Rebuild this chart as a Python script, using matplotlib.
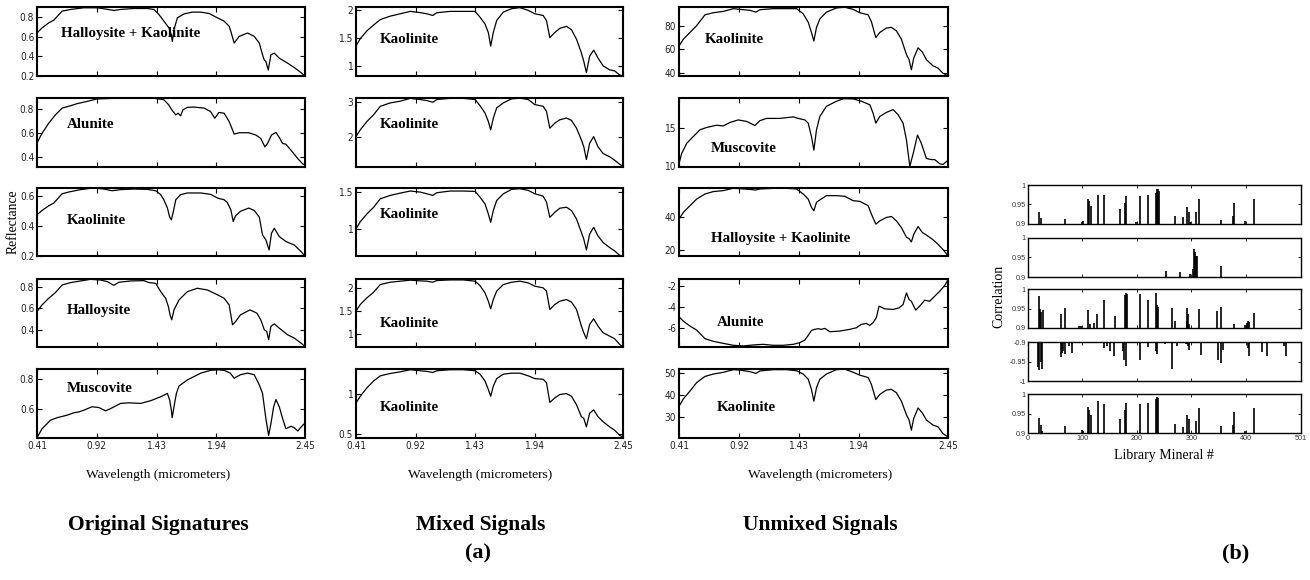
import matplotlib
matplotlib.use("Agg")
import matplotlib.pyplot as plt
from matplotlib import font_manager
from matplotlib.font_manager import FontProperties

# ---------------------------------------------------------------- data
# spectral x axis is the band number (0..224), labelled in micrometers
WAVE_TICKS = [0, 50, 100, 150, 224]
WAVE_LABELS = ["0.41", "0.92", "1.43", "1.94", "2.45"]

# --- original signatures
HK_ORIG_BANDS = [0, 4.2, 9.8, 14, 21, 28, 39.1, 50.3, 55.9, 64.2, 69.8, 81, 92.2, 97.8, 101.9,
                 106.1, 110.3, 112.3, 113.1, 114.5, 117.3, 122.9, 129.9, 136.9, 143.9, 150.8,
                 156.4, 160.6, 162, 164.8, 169, 176, 181.6, 185.8, 188.5, 189.9, 191.3, 193.3,
                 195.5, 198.3, 202.5, 209.5, 215.1, 220.7, 224]
HK_ORIG_VALUES = [0.636, 0.688, 0.739, 0.766, 0.858, 0.875, 0.892, 0.892, 0.882, 0.865, 0.875,
                  0.885, 0.885, 0.875, 0.824, 0.756, 0.688, 0.619, 0.551, 0.67, 0.79, 0.83, 0.848,
                  0.848, 0.834, 0.79, 0.756, 0.705, 0.653, 0.534, 0.602, 0.636, 0.602, 0.534,
                  0.415, 0.364, 0.347, 0.261, 0.415, 0.432, 0.381, 0.33, 0.285, 0.234, 0.2]

ALU_ORIG_BANDS = [0, 4.2, 9.8, 15.4, 21, 28, 33.5, 42, 50, 64, 81, 98, 106, 110, 113, 116, 118,
                  120, 122, 125.7, 131, 139.7, 145, 148.6, 152, 156.4, 160.6, 164.8, 169, 177,
                  183, 187, 190.5, 192.7, 196, 199.7, 202.5, 205.3, 208, 212.3, 218, 222, 224]
ALU_ORIG_VALUES = [0.52, 0.599, 0.683, 0.752, 0.808, 0.828, 0.845, 0.864, 0.884, 0.889, 0.889,
                   0.889, 0.878, 0.836, 0.789, 0.752, 0.766, 0.744, 0.794, 0.814, 0.817, 0.808,
                   0.78, 0.724, 0.772, 0.766, 0.697, 0.593, 0.604, 0.604, 0.585, 0.557, 0.487,
                   0.515, 0.585, 0.607, 0.565, 0.515, 0.509, 0.459, 0.389, 0.347, 0.333]

KAO_ORIG_BANDS = [0, 4.2, 9.8, 14, 21, 28, 36.3, 44.7, 50, 55.9, 62.8, 69.8, 81, 92.2, 99.2,
                  103.4, 106, 109, 110.9, 112.3, 114, 116, 120, 125.7, 137, 145, 151, 156.4, 159,
                  162, 164, 166, 170, 177, 181.6, 185.8, 188.5, 191.3, 194, 196, 198.3, 202.5,
                  208, 215, 220.7, 224]
KAO_ORIG_VALUES = [0.473, 0.502, 0.533, 0.551, 0.613, 0.627, 0.64, 0.649, 0.649, 0.644, 0.633,
                   0.64, 0.644, 0.642, 0.633, 0.607, 0.573, 0.518, 0.458, 0.44, 0.496, 0.573,
                   0.607, 0.618, 0.618, 0.609, 0.584, 0.573, 0.556, 0.507, 0.429, 0.467, 0.496,
                   0.518, 0.502, 0.458, 0.34, 0.307, 0.24, 0.351, 0.384, 0.329, 0.296, 0.273,
                   0.229, 0.2]

HAL_ORIG_BANDS = [0, 4.2, 9.8, 15.4, 21, 28, 36.3, 44.7, 53, 58.7, 64.2, 68.4, 78.2, 89.4, 93.6,
                  99.2, 103.4, 107.5, 109.8, 111.2, 112.6, 114.5, 118.7, 125.7, 134, 142.5, 151,
                  156.4, 160.6, 163.4, 166, 170, 178, 183.8, 187, 190, 192, 193.6, 195.5, 198.3,
                  202.5, 209.5, 215, 220.7, 224]
HAL_ORIG_VALUES = [0.571, 0.632, 0.693, 0.745, 0.815, 0.837, 0.852, 0.867, 0.861, 0.846, 0.812,
                   0.84, 0.852, 0.855, 0.837, 0.83, 0.754, 0.693, 0.617, 0.54, 0.495, 0.586,
                   0.678, 0.754, 0.785, 0.769, 0.724, 0.693, 0.632, 0.449, 0.479, 0.54, 0.586,
                   0.556, 0.495, 0.403, 0.388, 0.312, 0.434, 0.458, 0.418, 0.357, 0.327, 0.281,
                   0.25]

MUS_ORIG_BANDS = [0, 4.2, 7, 11.2, 16.8, 25, 30.7, 35, 39, 46, 51.7, 57.3, 61.5, 69.8, 76.8,
                  86.6, 95, 103.4, 109, 110.9, 112.3, 113, 114.5, 116.5, 118.7, 125.7, 137, 145,
                  151, 156.4, 161.5, 164.8, 170, 176, 181.6, 185.8, 188.5, 191.3, 193.6, 195.5,
                  197.8, 199.7, 202.5, 205.3, 208, 212.3, 215, 218, 220.7, 224]
MUS_ORIG_VALUES = [0.412, 0.471, 0.493, 0.527, 0.544, 0.56, 0.576, 0.582, 0.593, 0.616, 0.611,
                   0.589, 0.604, 0.638, 0.642, 0.638, 0.656, 0.682, 0.704, 0.66, 0.593, 0.544,
                   0.616, 0.704, 0.753, 0.793, 0.838, 0.856, 0.86, 0.856, 0.838, 0.804, 0.827,
                   0.838, 0.827, 0.76, 0.704, 0.538, 0.427, 0.504, 0.616, 0.664, 0.616, 0.538,
                   0.471, 0.487, 0.478, 0.456, 0.482, 0.509]

# --- mixed signals (all five share one band grid)
MIX_BANDS = [0, 3.6, 9.2, 14.8, 20.4, 28.7, 37.1, 45.5, 53.8, 59.4, 64.4, 67.8, 78.9, 90.1,
             99.9, 104, 108.2, 111, 113, 115.2, 118, 123.6, 130.5, 137.5, 144.5, 150, 157,
             159.8, 162.6, 166.8, 171, 176.6, 180.8, 185, 189.1, 191.1, 193.3, 196, 199.4, 203,
             207.3, 212.8, 217, 221.2, 224]
MIX_1 = [1.364, 1.497, 1.636, 1.739, 1.836, 1.897, 1.939, 1.982, 1.96, 1.939, 1.909, 1.958,
         1.982, 1.982, 1.982, 1.879, 1.758, 1.606, 1.364, 1.606, 1.818, 1.97, 2.03, 2.048, 2.0,
         1.939, 1.909, 1.818, 1.515, 1.606, 1.679, 1.715, 1.655, 1.485, 1.242, 1.091, 0.891,
         1.182, 1.291, 1.152, 1.012, 0.939, 0.921, 0.848, 0.83]
MIX_2 = [2.02, 2.21, 2.448, 2.638, 2.876, 2.971, 3.02, 3.1, 3.067, 3.038, 2.99, 3.067, 3.1, 3.1,
         3.067, 2.895, 2.686, 2.448, 2.21, 2.543, 2.829, 2.971, 3.086, 3.105, 3.067, 2.924,
         2.876, 2.733, 2.257, 2.4, 2.495, 2.543, 2.476, 2.257, 1.924, 1.733, 1.371, 1.829,
         2.019, 1.733, 1.543, 1.448, 1.352, 1.238, 1.181]
MIX_3 = [1.0, 1.1, 1.205, 1.295, 1.409, 1.455, 1.486, 1.514, 1.5, 1.477, 1.455, 1.491, 1.514,
         1.514, 1.509, 1.432, 1.341, 1.205, 1.091, 1.25, 1.386, 1.477, 1.536, 1.545, 1.523,
         1.477, 1.445, 1.364, 1.159, 1.227, 1.282, 1.295, 1.25, 1.136, 0.955, 0.864, 0.718,
         0.932, 1.023, 0.909, 0.818, 0.75, 0.705, 0.645, 0.636]
MIX_4 = [1.5, 1.643, 1.786, 1.907, 2.071, 2.121, 2.143, 2.165, 2.15, 2.143, 2.121, 2.157, 2.17,
         2.17, 2.143, 2.05, 1.893, 1.714, 1.55, 1.75, 1.929, 2.071, 2.121, 2.143, 2.107, 2.036,
         2.0, 1.929, 1.536, 1.643, 1.714, 1.75, 1.693, 1.536, 1.179, 1.036, 0.907, 1.214, 1.336,
         1.179, 1.036, 0.964, 0.907, 0.786, 0.729]
MIX_5 = [0.886, 0.97, 1.076, 1.161, 1.225, 1.254, 1.275, 1.301, 1.288, 1.28, 1.267, 1.288, 1.301,
         1.301, 1.288, 1.246, 1.161, 1.055, 0.97, 1.097, 1.19, 1.246, 1.258, 1.258, 1.225, 1.19,
         1.182, 1.14, 0.894, 0.949, 0.992, 1.004, 0.97, 0.864, 0.716, 0.695, 0.589, 0.758,
         0.801, 0.716, 0.653, 0.589, 0.547, 0.483, 0.462]

# --- unmixed signals
UNMIX_BANDS = [0, 3.6, 9.1, 14.7, 21.6, 28.6, 36.9, 45.2, 50.7, 59.1, 64, 67.4, 78.5, 89.5,
               97.9, 103.4, 107.6, 110.3, 112.3, 114.5, 117.3, 122.8, 131.1, 138.1, 145, 150.5,
               157.5, 160.2, 163.9, 167.2, 172.7, 176.9, 181, 185.2, 189.4, 191.6, 193.5, 195.5,
               199.1, 202.7, 206, 211.5, 215.7, 219.8, 224]
UNMIX_KAO_A = [62.9, 68.6, 74.3, 80, 89.1, 90.9, 92, 94.3, 93.7, 92.9, 91.4, 93.4, 94.3, 94.3,
               94.3, 90, 82.9, 74.3, 67.1, 78.6, 85.7, 91.4, 94.9, 95.5, 93.7, 90.9, 89.1, 83.4,
               70, 74.3, 78, 78.6, 75.7, 68.6, 55.7, 51.4, 42.9, 52.9, 61.4, 57.7, 51.4, 46.3,
               44.3, 40, 37.9]
UNMIX_HK = [39, 43.1, 47.2, 51.3, 54.4, 55.9, 56.5, 57.9, 57.7, 57.2, 56.9, 57.5, 57.9, 57.9,
            57.5, 54.4, 51.3, 46.2, 44.1, 49.3, 50.8, 53.4, 53.4, 53.0, 50.3, 49.9, 47.2, 42.1,
            35.9, 37.9, 40.0, 40.6, 37.9, 33.8, 27.8, 27.0, 24.9, 29.7, 34.4, 30.7, 29.2, 26.3,
            23.5, 20.3, 16.5]
UNMIX_KAO_B = [34.65, 38.06, 41.6, 45.5, 48.3, 49.4, 50.2, 51.4, 51.2, 50.5, 49.7, 50.8, 51.4,
               51.4, 50.9, 49.4, 47.05, 42.4, 37.0, 43.2, 47.05, 49.4, 51.4, 51.6, 50.2, 48.9,
               47.8, 44.7, 37.75, 40.1, 42.1, 42.4, 40.9, 37.0, 30.8, 28.4, 23.8, 29.2, 33.9,
               31.6, 28.4, 26.1, 25.3, 22.2, 20.7]

UNMIX_MUS_BANDS = [0, 2.2, 6.4, 11.9, 17.5, 23, 31.3, 36.9, 42.4, 49.3, 56.3, 63.2, 67.4, 72.9,
                   84, 95.1, 99.3, 104.8, 107.6, 110.3, 112.3, 114.5, 117.3, 122.8, 131.1, 136.7,
                   145, 152, 158.9, 161.6, 163.9, 167.2, 172.8, 178.3, 182.4, 186.6, 189.4,
                   192.2, 195, 198.6, 201.8, 206, 210.1, 212.9, 217.1, 219.8, 224]
UNMIX_MUS = [10.3, 11.65, 13.0, 13.9, 14.8, 15.1, 15.4, 15.3, 15.76, 16.1, 15.9, 15.36, 16.0,
             16.3, 16.3, 16.5, 16.3, 16.1, 15.67, 13.9, 12.1, 14.8, 16.56, 17.9, 18.57, 18.9,
             18.88, 18.57, 18.1, 17.0, 15.67, 16.56, 17.1, 17.46, 16.8, 15.67, 13.44, 9.95,
             11.65, 14.1, 13.0, 11.0, 10.85, 10.85, 10.3, 10.2, 10.76]

UNMIX_ALU_BANDS = [0, 3.6, 9.1, 14.7, 21.6, 28.6, 36.9, 45.2, 53.5, 61.8, 70.1, 78.5, 86.8,
                   95.1, 100.6, 104.8, 107.6, 110.3, 113.1, 115.9, 118.6, 121.4, 125.6, 133.9,
                   142.2, 147.7, 151.8, 156, 158.8, 161.6, 164.3, 166.6, 171.3, 178.3, 183.2,
                   186.6, 189.4, 191.6, 193.5, 197.1, 200.4, 204.6, 208.7, 212.9, 217.1, 221.2,
                   224]
UNMIX_ALU = [-4.91, -5.32, -5.78, -6.16, -6.96, -7.21, -7.4, -7.58, -7.64, -7.55, -7.49, -7.58,
             -7.58, -7.49, -7.33, -7.09, -6.65, -6.19, -6.09, -6.03, -6.09, -6.0, -6.31, -6.25,
             -6.09, -5.94, -5.63, -5.53, -5.72, -5.47, -5.0, -3.92, -4.17, -4.23, -4.08, -3.77,
             -2.68, -3.3, -3.46, -4.29, -3.92, -3.36, -3.46, -2.99, -2.53, -2.0, -1.44]

# --- correlation against the library
LIB_TICKS = [0, 100, 200, 300, 400, 501]
CORR_1_IDX = [21, 23, 68, 99, 101, 111, 112, 115, 128, 139, 168, 178, 180, 198, 206, 221, 234,
              236, 238, 240, 270, 284, 292, 295, 297, 309, 314, 355, 376, 378, 399, 414]
CORR_1_VAL = [0.932, 0.915, 0.913, 0.906, 0.908, 0.963, 0.958, 0.947, 0.975, 0.975, 0.938, 0.955,
              0.973, 0.906, 0.972, 0.975, 0.98, 0.99, 0.99, 0.985, 0.921, 0.917, 0.943, 0.931,
              0.906, 0.932, 0.964, 0.911, 0.921, 0.953, 0.907, 0.965]
CORR_2_IDX = [253, 279, 298, 302, 305, 307, 309, 311, 354]
CORR_2_VAL = [0.915, 0.912, 0.907, 0.92, 0.972, 0.963, 0.955, 0.955, 0.927]
CORR_3_IDX = [20, 22, 24, 28, 60, 68, 94, 97, 111, 114, 122, 127, 140, 160, 178, 180, 181, 206,
              221, 235, 237, 239, 264, 270, 291, 292, 294, 296, 314, 347, 355, 378, 399, 401,
              403, 405, 414]
CORR_3_VAL = [0.981, 0.95, 0.941, 0.947, 0.936, 0.951, 0.905, 0.906, 0.945, 0.91, 0.912, 0.936,
              0.972, 0.931, 0.985, 0.989, 0.988, 0.986, 0.971, 0.989, 0.96, 0.955, 0.952, 0.918,
              0.918, 0.952, 0.936, 0.909, 0.95, 0.943, 0.954, 0.91, 0.908, 0.914, 0.918, 0.915,
              0.938]
CORR_4_IDX = [19, 21, 24, 26, 60, 63, 65, 68, 76, 81, 140, 145, 150, 158, 174, 177, 179, 206,
              220, 234, 237, 252, 265, 274, 290, 292, 294, 296, 317, 348, 354, 358, 403, 406,
              429, 438, 470, 474]
CORR_4_VAL = [-0.963, -0.972, -0.95, -0.97, -0.939, -0.929, -0.922, -0.93, -0.911, -0.929,
              -0.916, -0.911, -0.922, -0.936, -0.922, -0.946, -0.962, -0.945, -0.913, -0.922,
              -0.932, -0.904, -0.97, -0.911, -0.904, -0.906, -0.911, -0.92, -0.933, -0.946,
              -0.955, -0.92, -0.916, -0.936, -0.925, -0.937, -0.91, -0.936]
CORR_5_IDX = [21, 23, 25, 68, 100, 101, 111, 112, 115, 128, 139, 168, 178, 180, 206, 221, 235,
              237, 239, 270, 284, 292, 295, 309, 314, 355, 376, 378, 399, 414]
CORR_5_VAL = [0.939, 0.921, 0.904, 0.918, 0.907, 0.905, 0.967, 0.96, 0.945, 0.983, 0.974, 0.937,
              0.959, 0.977, 0.974, 0.976, 0.988, 0.993, 0.99, 0.922, 0.915, 0.945, 0.937, 0.93,
              0.963, 0.917, 0.92, 0.955, 0.906, 0.965]

# ---------------------------------------------------------------- fonts
SERIF = "Liberation Serif"


def find_narrow_font():
    """Pick an installed narrow/condensed upright sans face for the tick labels."""
    best = None
    for f in font_manager.fontManager.ttflist:
        if f.style != "normal" or f.weight not in (400, "normal", "regular", "book"):
            continue
        narrow = ("Narrow" in f.name or "Condensed" in f.name
                  or f.stretch in ("condensed", "semi-condensed", "extra-condensed"))
        if not narrow:
            continue
        score = 0 if "Liberation Sans Narrow" in f.name else (1 if "Sans" in f.name else 2)
        if best is None or score < best[0]:
            best = (score, f.fname)
    return FontProperties(fname=best[1]) if best else None


_narrow = find_narrow_font()
if _narrow is not None:
    TICK_FONT = _narrow
    TICK_SIZE = 7.2
else:
    TICK_FONT = FontProperties(family="DejaVu Sans")
    TICK_SIZE = 6.0

LABEL_SIZE = 10.8
TITLE_SIZE = 15.5

W, H = 1310, 580
fig = plt.figure(figsize=(W / 100, H / 100), dpi=100)


def px_rect(left, top, right, bottom):
    """Axes rectangle given in pixel edges measured from the top-left corner."""
    return [left / W, 1 - bottom / H, (right - left) / W, (bottom - top) / H]


def fig_text(x, y, s, **kw):
    fig.text(x / W, 1 - y / H, s, ha="center", va="center", **kw)


ROWS = [(7, 76), (98, 167), (188, 256), (279, 347), (369, 438)]
COLS = [(37, 305), (356, 623), (679, 948)]

PANELS = [
    # column, row, bands, values, ylim, yticks, label, label position
    (0, 0, HK_ORIG_BANDS, HK_ORIG_VALUES, (0.2, 0.9), [0.2, 0.4, 0.6, 0.8],
     "Halloysite + Kaolinite", (0.09, 0.62)),
    (0, 1, ALU_ORIG_BANDS, ALU_ORIG_VALUES, (0.32, 0.892), [0.4, 0.6, 0.8], "Alunite", (0.112, 0.62)),
    (0, 2, KAO_ORIG_BANDS, KAO_ORIG_VALUES, (0.2, 0.651), [0.2, 0.4, 0.6], "Kaolinite", (0.112, 0.52)),
    (0, 3, HAL_ORIG_BANDS, HAL_ORIG_VALUES, (0.245, 0.87), [0.4, 0.6, 0.8], "Halloysite", (0.112, 0.53)),
    (0, 4, MUS_ORIG_BANDS, MUS_ORIG_VALUES, (0.41, 0.865), [0.6, 0.8], "Muscovite", (0.112, 0.72)),
    (1, 0, MIX_BANDS, MIX_1, (0.83, 2.06), [1, 1.5, 2], "Kaolinite", (0.09, 0.53)),
    (1, 1, MIX_BANDS, MIX_2, (1.16, 3.11), [2, 3], "Kaolinite", (0.09, 0.62)),
    (1, 2, MIX_BANDS, MIX_3, (0.636, 1.555), [1, 1.5], "Kaolinite", (0.09, 0.61)),
    (1, 3, MIX_BANDS, MIX_4, (0.73, 2.19), [1, 1.5, 2], "Kaolinite", (0.09, 0.35)),
    (1, 4, MIX_BANDS, MIX_5, (0.45, 1.31), [0.5, 1], "Kaolinite", (0.09, 0.44)),
    (2, 0, UNMIX_BANDS, UNMIX_KAO_A, (37.7, 95.7), [40, 60, 80], "Kaolinite", (0.097, 0.53)),
    (2, 1, UNMIX_MUS_BANDS, UNMIX_MUS, (9.87, 19.0), [10, 15], "Muscovite", (0.119, 0.27)),
    (2, 2, UNMIX_BANDS, UNMIX_HK, (16.3, 58.1), [20, 40], "Halloysite + Kaolinite", (0.119, 0.26)),
    (2, 3, UNMIX_ALU_BANDS, UNMIX_ALU, (-7.74, -1.38), [-6, -4, -2], "Alunite", (0.141, 0.36)),
    (2, 4, UNMIX_BANDS, UNMIX_KAO_B, (20.2, 51.7), [30, 40, 50], "Kaolinite", (0.141, 0.44)),
]


def tick_text(v):
    return "%g" % v


for col, row, bands, values, ylim, yticks, label, (lx, ly) in PANELS:
    left, right = COLS[col]
    top, bottom = ROWS[row]
    ax = fig.add_axes(px_rect(left, top, right, bottom))
    ax.plot(bands, values, color="black", lw=0.9)
    ax.set_xlim(0, 224)
    ax.set_ylim(*ylim)
    ax.set_xticks(WAVE_TICKS)
    ax.set_xticklabels(WAVE_LABELS if row == 4 else [])
    ax.set_yticks(yticks)
    ax.set_yticklabels([tick_text(v) for v in yticks])
    ax.tick_params(direction="in", length=3.5, width=0.8, top=True, right=True, pad=2)
    for t in ax.get_xticklabels() + ax.get_yticklabels():
        t.set_fontproperties(TICK_FONT)
        t.set_fontsize(TICK_SIZE)
        t.set_color("#222222")
    for s in ax.spines.values():
        s.set_linewidth(1.5)
    ax.text(lx, ly, label, transform=ax.transAxes, ha="left", va="center",
            fontfamily=SERIF, fontweight="bold", fontsize=LABEL_SIZE)

# correlation panels
CORR_ROWS = [(185, 224), (238, 277), (289, 328), (342, 381), (394, 433)]
CORR_SERIES = [(CORR_1_IDX, CORR_1_VAL), (CORR_2_IDX, CORR_2_VAL), (CORR_3_IDX, CORR_3_VAL),
               (CORR_4_IDX, CORR_4_VAL), (CORR_5_IDX, CORR_5_VAL)]
for i, ((top, bottom), (idx, val)) in enumerate(zip(CORR_ROWS, CORR_SERIES)):
    ax = fig.add_axes(px_rect(1028, top, 1301, bottom))
    negative = val[0] < 0
    base = -0.9 if negative else 0.9
    ax.vlines(idx, base, val, color="black", lw=1.2)
    ax.set_xlim(0, 501)
    if negative:
        ax.set_ylim(-1.0, -0.9)
        yt = [-1.0, -0.95, -0.9]
    else:
        ax.set_ylim(0.9, 1.0)
        yt = [0.9, 0.95, 1.0]
    ax.set_yticks(yt)
    ax.set_yticklabels([tick_text(v) for v in yt])
    ax.set_xticks(LIB_TICKS)
    ax.set_xticklabels([str(v) for v in LIB_TICKS] if i == 4 else [])
    ax.tick_params(direction="in", length=2.5, width=0.6, top=True, right=True,
                   labelsize=5.2, pad=1.5)
    for t in ax.get_xticklabels() + ax.get_yticklabels():
        t.set_fontfamily("Liberation Sans")
        t.set_color("#333333")
    for s in ax.spines.values():
        s.set_linewidth(1.0)

# axis titles and captions
fig.text(13 / W, 1 - 222 / H, "Reflectance", rotation=90, ha="center", va="center",
         fontfamily=SERIF, fontsize=9.8)
fig.text(999 / W, 1 - 296 / H, "Correlation", rotation=90, ha="center", va="center",
         fontfamily=SERIF, fontsize=10)
for cx in (158, 480, 820):
    fig_text(cx, 475, "Wavelength (micrometers)", fontfamily=SERIF, fontsize=9.7)
fig_text(1164, 456, "Library Mineral #", fontfamily=SERIF, fontsize=10)

fig_text(158, 525, "Original Signatures", fontfamily=SERIF, fontweight="bold", fontsize=TITLE_SIZE)
fig_text(481, 525, "Mixed Signals", fontfamily=SERIF, fontweight="bold", fontsize=TITLE_SIZE)
fig_text(820, 525, "Unmixed Signals", fontfamily=SERIF, fontweight="bold", fontsize=TITLE_SIZE)
fig_text(478, 553, "(a)", fontfamily=SERIF, fontweight="bold", fontsize=16)
fig_text(1236, 553, "(b)", fontfamily=SERIF, fontweight="bold", fontsize=16)

fig.savefig("out.png", dpi=100, facecolor="white")
